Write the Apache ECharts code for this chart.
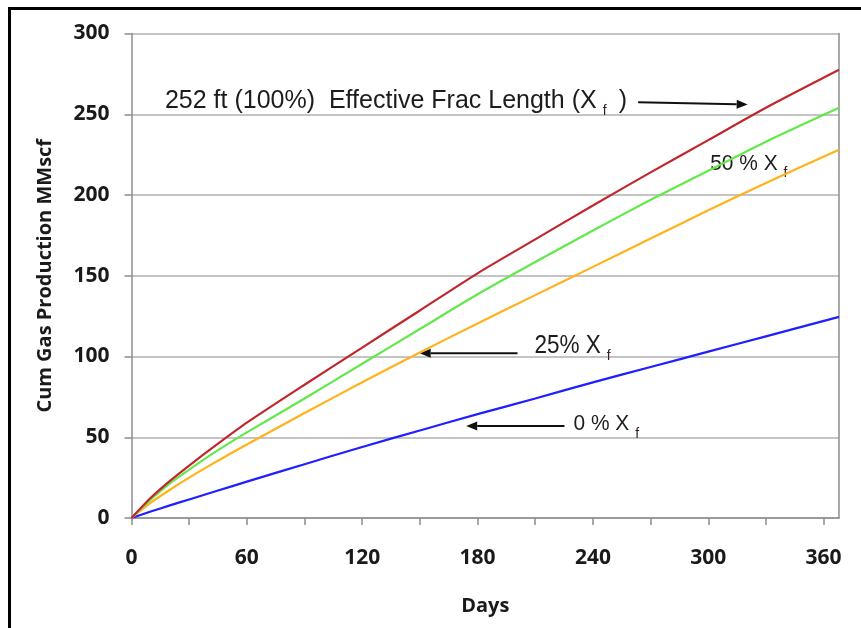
<!DOCTYPE html>
<html>
<head>
<meta charset="utf-8">
<script src="https://cdn.jsdelivr.net/npm/echarts@6/dist/echarts.min.js"></script>
<style>
  html, body { margin: 0; padding: 0; background: #fff; }
  #main { width: 861px; height: 628px; }
</style>
</head>
<body>
<div id="main"></div>
<script>
// days sampled along the curves
const days = [0, 10, 20, 30, 45, 60, 90, 120, 150, 180, 210, 240, 270, 300, 330, 368];
// cum gas production, MMscf
const xf100 = [0, 12.5, 23, 32.5, 46, 59, 82.5, 105.5, 128.5, 151.5, 172.5, 193.5, 214, 234, 254, 277.5];
const xf50  = [0, 11.5, 21.5, 30, 42, 53, 74, 95.5, 117, 138.5, 158.5, 178, 197, 215, 233, 254];
const xf25  = [0, 9.5, 17.5, 25, 35.5, 45.5, 65, 84, 102.5, 120.5, 138, 155.5, 173, 190.5, 207.5, 228];
const xf0   = [0, 4, 7.8, 11.5, 17, 22.5, 33.3, 44, 54.2, 64.3, 74, 84, 93.5, 103, 112.5, 124.5];

const seriesNames = ['252 ft (100%)', '50 % Xf', '25% Xf', '0 % Xf'];
const seriesData = [xf100, xf50, xf25, xf0];
const colors = ['#c0272d', '#62e84a', '#ffb21c', '#1f1fff'];

const xTicks = [0, 30, 60, 90, 120, 150, 180, 210, 240, 270, 300, 330, 360];
const xLabels = [0, 60, 120, 180, 240, 300, 360];

// annotation texts, anchored in data coords [day, MMscf] (left, middle)
const notes = [
  { at: [17.4, 258], text: '252 ft (100%)  Effective Frac Length (X', size: 25, sx: 1, tail: ')' },
  { at: [301, 219.5], text: '50 % X', size: 22, sx: 0.95 },
  { at: [209.6, 106.4], text: '25% X', size: 25, sx: 0.9 },
  { at: [229.9, 58.1], text: '0 % X', size: 22, sx: 0.95 }
];
// arrows: from -> to (head at "to")
const arrows = [
  { from: [263.5, 257.5], to: [320.5, 256] },
  { from: [200.8, 102], to: [149.9, 102] },
  { from: [225.2, 56.9], to: [174.1, 56.9] }
];

const chart = echarts.init(document.getElementById('main'));

const ticksFont = { fontFamily: 'Open Sans', fontWeight: 'bold', fontSize: 21, color: '#1a1a1a' };

chart.setOption({
  animation: false,
  grid: { left: 131.5, right: 22, top: 33.5, bottom: 110 },
  xAxis: {
    type: 'value', min: 0, max: 368,
    name: 'Days', nameLocation: 'middle', nameGap: 78,
    nameTextStyle: { fontFamily: 'Open Sans', fontWeight: 'bold', fontSize: 20, color: '#1a1a1a' },
    axisLine: { lineStyle: { color: '#8c8c8c', width: 1.5 } },
    axisTick: { show: true, length: 7, lineStyle: { color: '#8c8c8c', width: 1.5 }, customValues: xTicks },
    axisLabel: Object.assign({ margin: 30, customValues: xLabels }, ticksFont),
    splitLine: { show: false }
  },
  yAxis: [{
    type: 'value', min: 0, max: 300, interval: 50,
    name: 'Cum Gas Production MMscf', nameLocation: 'middle', nameRotate: 90, nameGap: 76,
    nameTextStyle: { fontFamily: 'Open Sans', fontWeight: 'bold', fontSize: 20, color: '#1a1a1a' },
    axisLine: { show: true, lineStyle: { color: '#8c8c8c', width: 1.5 } },
    axisTick: { show: true, length: 7, lineStyle: { color: '#8c8c8c', width: 1.5 } },
    axisLabel: Object.assign({ margin: 22 }, ticksFont),
    splitLine: { lineStyle: { color: '#c4c4c4', width: 1.8 } }
  }, {
    type: 'value', min: 0, max: 300, position: 'right',
    axisLine: { show: true, lineStyle: { color: '#8c8c8c', width: 1.5 } },
    axisTick: { show: false }, axisLabel: { show: false }, splitLine: { show: false }
  }],
  series: seriesData.map((vals, i) => ({
    name: seriesNames[i],
    type: 'line',
    data: days.map((d, j) => [d, vals[j]]),
    smooth: 0.25,
    showSymbol: false,
    lineStyle: { color: colors[i], width: 2.2 },
    z: 10 - i
  }))
});

// annotations in pixel space, placed from data coords
const ctx = document.createElement('canvas').getContext('2d');
function textW(t, size) {
  ctx.font = size + 'px "Liberation Sans"';
  return ctx.measureText(t).width;
}
const toPx = p => chart.convertToPixel({ gridIndex: 0 }, p);

const graphics = [];
notes.forEach(n => {
  const [x, y] = toPx(n.at);
  const w = textW(n.text, n.size) * n.sx;
  graphics.push({
    type: 'text', x: x, y: y, scaleX: n.sx,
    style: { text: n.text, fontFamily: 'Liberation Sans', fontSize: n.size, fill: '#1c1c1c', align: 'left', verticalAlign: 'middle' }
  });
  graphics.push({
    type: 'text', x: x + w + 6, y: y + 10,
    style: { text: 'f', fontFamily: 'Liberation Sans', fontSize: 14, fill: '#3a2222', align: 'left', verticalAlign: 'middle' }
  });
  if (n.tail) {
    graphics.push({
      type: 'text', x: x + w + 22, y: y,
      style: { text: n.tail, fontFamily: 'Liberation Sans', fontSize: n.size, fill: '#1c1c1c', align: 'left', verticalAlign: 'middle' }
    });
  }
});
arrows.forEach(a => {
  const [x1, y1] = toPx(a.from);
  const [x2, y2] = toPx(a.to);
  const ang = Math.atan2(y2 - y1, x2 - x1);
  const L = 11, W = 4.5;
  const bx = x2 - L * Math.cos(ang), by = y2 - L * Math.sin(ang);
  graphics.push({
    type: 'line', shape: { x1: x1, y1: y1, x2: bx, y2: by },
    style: { stroke: '#111', lineWidth: 2 }
  });
  graphics.push({
    type: 'polygon',
    shape: { points: [[x2, y2], [bx - W * Math.sin(ang), by + W * Math.cos(ang)], [bx + W * Math.sin(ang), by - W * Math.cos(ang)]] },
    style: { fill: '#111' }
  });
});
// outer frame (top and left edges visible)
graphics.push({
  type: 'polyline', shape: { points: [[9.5, 640], [9.5, 8.5], [870, 8.5]] },
  style: { stroke: '#000', lineWidth: 3, fill: null }
});

chart.setOption({ graphic: graphics });
</script>
</body>
</html>
